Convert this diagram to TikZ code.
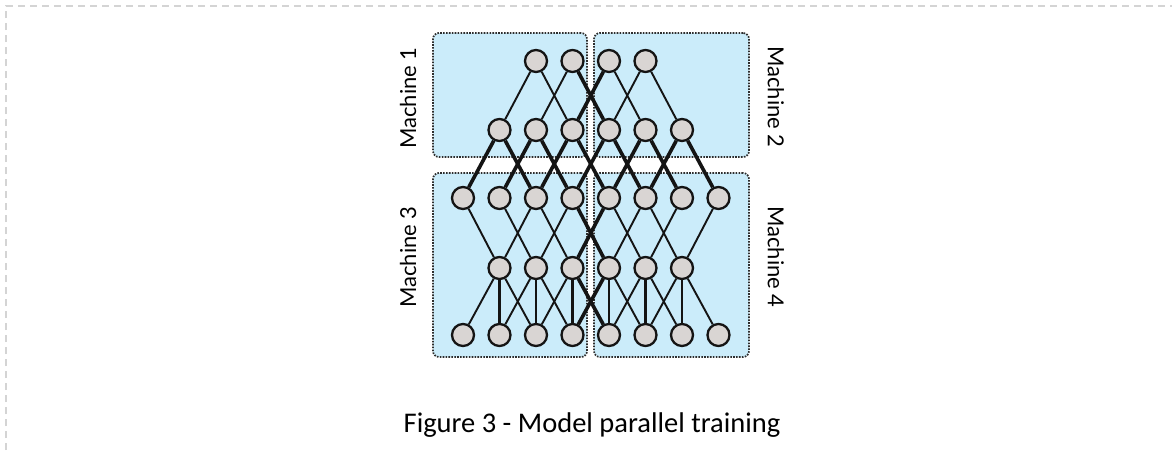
\documentclass[tikz,border=0pt]{standalone}
\usepackage{fontspec}
\setmainfont{Carlito}
\newfontfamily\labelfont{Lato}
\definecolor{boxfill}{RGB}{203,236,250}
\definecolor{nodefill}{RGB}{217,213,211}
\definecolor{boxline}{RGB}{45,45,45}
\definecolor{framegray}{RGB}{212,212,212}
\definecolor{edgecol}{RGB}{20,20,20}
\begin{document}
\begin{tikzpicture}[x=1pt,y=-1pt,
  neuron/.style={circle, draw=edgecol, line width=2.3pt, fill=nodefill, minimum size=22pt, inner sep=0pt},
  machinebox/.style={draw=boxline, fill=boxfill, rounded corners=6pt, line width=1.7pt,
     dash pattern=on 1.6pt off 1.3pt, inner sep=0pt},
  syn/.style={draw=edgecol, line width=1.9pt},
  synthick/.style={draw=edgecol, line width=3.6pt},
  synvert/.style={draw=edgecol, line width=2.5pt},
  mlabel/.style={font=\labelfont\fontsize{22}{26}\selectfont, text=black},
  frameline/.style={draw=framegray, line width=1.3pt, dash pattern=on 7pt off 5pt}]
\useasboundingbox (0,0) rectangle (1172,450);
\fill[white] (0,0) rectangle (1172,450);
\draw[frameline] (6,450) -- (6,6) -- (1172,6);

% machine boxes
\node[machinebox, minimum width=154pt, minimum height=124pt] (m1) at (510,95) {};
\node[machinebox, minimum width=155pt, minimum height=124pt] (m2) at (671.5,95) {};
\node[machinebox, minimum width=154pt, minimum height=184pt] (m3) at (510,265) {};
\node[machinebox, minimum width=155pt, minimum height=184pt] (m4) at (671.5,265) {};

% labels
\node[mlabel, rotate=90] (l1) at (408,98) {Machine 1};
\node[mlabel, rotate=90] (l3) at (408,257) {Machine 3};
\node[mlabel, rotate=-90] (l2) at (776,97) {Machine 2};
\node[mlabel, rotate=-90] (l4) at (776,257) {Machine 4};

% neurons
\foreach \c in {2,...,5} \node[neuron] (a\c) at ({463+36.5*\c},61) {};
\foreach \c in {1,...,6} \node[neuron] (b\c) at ({463+36.5*\c},130) {};
\foreach \c in {0,...,7} \node[neuron] (c\c) at ({463+36.5*\c},198) {};
\foreach \c in {1,...,6} \node[neuron] (d\c) at ({463+36.5*\c},268) {};
\foreach \c in {0,...,7} \node[neuron] (e\c) at ({463+36.5*\c},335) {};

% layer 1 -> layer 2
\foreach \c [evaluate=\c as \l using int(\c-1), evaluate=\c as \r using int(\c+1)] in {2,...,5}
  {\draw[syn] (a\c) -- (b\l); \draw[syn] (a\c) -- (b\r);}
\draw[synthick] (a3) -- (b4);
\draw[synthick] (a4) -- (b3);

% layer 2 -> layer 3 (all cross machines)
\foreach \c [evaluate=\c as \l using int(\c-1), evaluate=\c as \r using int(\c+1)] in {1,...,6}
  {\draw[synthick] (b\c) -- (c\l); \draw[synthick] (b\c) -- (c\r);}

% layer 3 -> layer 4
\foreach \c [evaluate=\c as \l using int(\c-1), evaluate=\c as \r using int(\c+1)] in {1,...,6}
  {\draw[syn] (d\c) -- (c\l); \draw[syn] (d\c) -- (c\r);}
\draw[synthick] (c3) -- (d4);
\draw[synthick] (c4) -- (d3);

% layer 4 -> layer 5
\foreach \c [evaluate=\c as \l using int(\c-1), evaluate=\c as \r using int(\c+1)] in {1,...,6}
  {\draw[syn] (d\c) -- (e\l); \draw[synvert] (d\c) -- (e\c); \draw[syn] (d\c) -- (e\r);}
\draw[synthick] (d3) -- (e4);
\draw[synthick] (d4) -- (e3);

% caption
\node[anchor=base, font=\fontsize{28.5}{32}\selectfont, text=black] (cap) at (592,432) {Figure 3 - Model parallel training};
\end{tikzpicture}
\end{document}
